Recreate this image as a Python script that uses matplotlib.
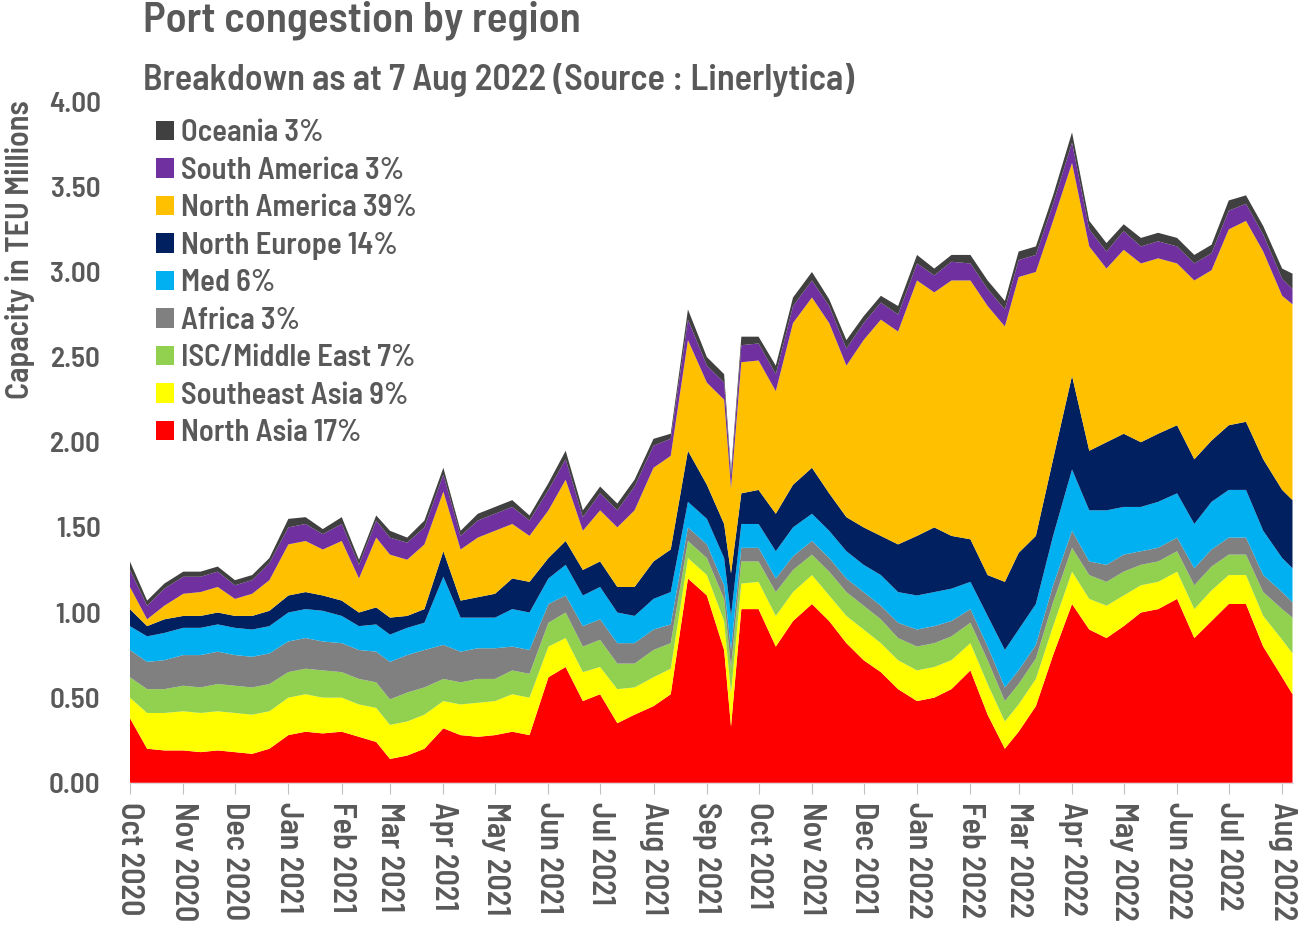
import matplotlib
matplotlib.use("Agg")
import matplotlib.pyplot as plt
import matplotlib.dates as mdates
from matplotlib.patches import Patch
import numpy as np
import pandas as pd

plt.rcParams['font.family'] = ['Barlow Semi Condensed', 'Roboto Condensed',
                               'IBM Plex Sans Condensed', 'DejaVu Sans']

dates = [
    "2020-10-01", "2020-10-11", "2020-10-21", "2020-11-01", "2020-11-11", "2020-11-21",
    "2020-12-01", "2020-12-11", "2020-12-21", "2021-01-01", "2021-01-11", "2021-01-21",
    "2021-02-01", "2021-02-11", "2021-02-21", "2021-03-01", "2021-03-11", "2021-03-21",
    "2021-04-01", "2021-04-11", "2021-04-21", "2021-05-01", "2021-05-11", "2021-05-21",
    "2021-06-01", "2021-06-11", "2021-06-21", "2021-07-01", "2021-07-11", "2021-07-21",
    "2021-08-01", "2021-08-11", "2021-08-21", "2021-09-01", "2021-09-11", "2021-09-15",
    "2021-09-21", "2021-10-01", "2021-10-11", "2021-10-21", "2021-11-01", "2021-11-11",
    "2021-11-21", "2021-12-01", "2021-12-11", "2021-12-21", "2022-01-01", "2022-01-11",
    "2022-01-21", "2022-02-01", "2022-02-11", "2022-02-21", "2022-03-01", "2022-03-11",
    "2022-03-21", "2022-04-01", "2022-04-11", "2022-04-21", "2022-05-01", "2022-05-11",
    "2022-05-21", "2022-06-01", "2022-06-11", "2022-06-21", "2022-07-01", "2022-07-11",
    "2022-07-21", "2022-08-01", "2022-08-07",
]

north_asia = [.38, .20, .19, .19, .18, .19, .18, .17, .20, .28, .30, .29,
              .30, .27, .24, .14, .16, .20, .32, .28, .27, .28, .30, .28,
              .62, .68, .48, .52, .35, .40, .45, .52, 1.20, 1.10, .78, .33,
              1.02, 1.02, .80, .95, 1.05, .95, .82, .72, .65, .55, .48, .50,
              .55, .66, .40, .20, .30, .45, .75, 1.05, .90, .85, .92, 1.00,
              1.02, 1.08, .85, .95, 1.05, 1.05, .80, .62, .52]
southeast_asia = [.12, .21, .22, .23, .23, .23, .23, .23, .22, .22, .22, .21,
                  .20, .19, .20, .20, .20, .20, .16, .18, .20, .20, .22, .22,
                  .18, .17, .17, .16, .20, .16, .17, .15, .12, .12, .17, .20,
                  .15, .16, .18, .17, .17, .15, .16, .18, .17, .17, .18, .18,
                  .17, .16, .18, .16, .16, .16, .17, .19, .18, .19, .18, .16,
                  .16, .16, .17, .18, .17, .17, .18, .22, .24]
isc_middle_east = [.12, .14, .14, .15, .15, .16, .16, .16, .16, .15, .15, .16,
                   .15, .15, .15, .15, .17, .16, .13, .13, .14, .13, .14, .14,
                   .14, .15, .15, .16, .15, .14, .16, .15, .10, .10, .13, .15,
                   .13, .12, .14, .13, .12, .14, .14, .14, .14, .13, .14, .14,
                   .14, .12, .14, .12, .12, .12, .14, .14, .14, .14, .14, .12,
                   .12, .12, .14, .14, .12, .12, .14, .18, .21]
africa = [.16, .16, .17, .18, .19, .19, .18, .18, .18, .18, .18, .17,
          .17, .17, .18, .22, .22, .22, .20, .18, .18, .18, .14, .14,
          .11, .10, .12, .12, .12, .12, .12, .11, .08, .08, .08, .10,
          .08, .08, .08, .08, .08, .08, .08, .08, .08, .09, .10, .10,
          .09, .08, .08, .08, .08, .08, .10, .10, .08, .10, .10, .08,
          .08, .08, .10, .10, .10, .10, .10, .10, .09]
med = [.14, .15, .16, .16, .16, .16, .16, .16, .16, .17, .17, .18,
       .16, .14, .16, .16, .16, .16, .40, .20, .18, .18, .22, .22,
       .15, .18, .18, .19, .18, .16, .18, .19, .15, .15, .16, .20,
       .14, .14, .16, .17, .16, .16, .16, .16, .18, .18, .20, .20,
       .19, .16, .18, .22, .24, .24, .29, .36, .30, .32, .28, .26,
       .27, .26, .26, .28, .28, .28, .26, .20, .20]
north_europe = [.10, .06, .08, .07, .07, .07, .07, .08, .09, .10, .10, .09,
                .09, .08, .10, .10, .07, .08, .15, .10, .12, .14, .18, .18,
                .12, .14, .15, .15, .15, .17, .22, .25, .30, .20, .20, .25,
                .18, .20, .22, .25, .27, .22, .20, .22, .23, .28, .35, .38,
                .31, .25, .24, .40, .45, .40, .45, .55, .35, .40, .43, .38,
                .40, .40, .38, .36, .38, .40, .42, .40, .40]
north_america = [.13, .04, .08, .13, .14, .15, .10, .13, .18, .30, .30, .27,
                 .35, .20, .41, .37, .33, .38, .35, .30, .35, .37, .32, .27,
                 .28, .36, .23, .30, .35, .45, .55, .55, .65, .60, .73, .50,
                 .77, .76, .72, .95, 1.00, 1.00, .89, 1.10, 1.27, 1.25, 1.50, 1.38,
                 1.50, 1.52, 1.58, 1.50, 1.62, 1.55, 1.40, 1.25, 1.20, 1.02, 1.08, 1.05,
                 1.03, .95, 1.05, 1.00, 1.15, 1.18, 1.22, 1.14, 1.15]
south_america = [.10, .08, .10, .10, .09, .09, .08, .08, .10, .10, .10, .09,
                 .10, .08, .10, .10, .10, .10, .10, .08, .10, .10, .10, .09,
                 .12, .12, .08, .10, .10, .14, .13, .10, .12, .10, .10, .07,
                 .10, .10, .10, .10, .10, .10, .10, .10, .10, .10, .10, .10,
                 .11, .10, .10, .10, .10, .10, .10, .12, .10, .10, .11, .10,
                 .10, .10, .10, .10, .11, .10, .10, .10, .09]
oceania = [.05, .03, .03, .03, .03, .03, .03, .03, .03, .05, .04, .03,
           .04, .03, .03, .04, .03, .04, .04, .03, .04, .04, .04, .03,
           .04, .05, .04, .04, .04, .04, .04, .03, .06, .05, .05, .03,
           .05, .04, .05, .05, .05, .04, .05, .04, .04, .05, .05, .04,
           .04, .05, .05, .05, .05, .05, .05, .06, .05, .05, .04, .05,
           .05, .05, .05, .05, .06, .05, .05, .06, .09]

labels = ["North Asia 17%", "Southeast Asia 9%", "ISC/Middle East 7%", "Africa 3%",
          "Med 6%", "North Europe 14%", "North America 39%", "South America 3%", "Oceania 3%"]
colors = ["#FF0000", "#FFFF00", "#92D050", "#808080", "#00B0F0",
          "#002060", "#FFC000", "#7030A0", "#404040"]

series = [north_asia, southeast_asia, isc_middle_east, africa, med,
          north_europe, north_america, south_america, oceania]

x = pd.to_datetime(dates)
text_col = "#595959"
wt = 'semibold'

fig = plt.figure(figsize=(12.99, 9.33), dpi=100)
ax = fig.add_axes([0.1, 0.161, 0.895, 0.73])
ax.stackplot(x, *series, colors=colors, linewidth=0)

ax.set_ylim(0, 4.0)
ax.set_xlim(x[0], x[-1])
ax.set_yticks(np.arange(0, 4.01, 0.5))
ax.yaxis.set_major_formatter(matplotlib.ticker.FormatStrFormatter('%.2f'))
ax.xaxis.set_major_locator(mdates.MonthLocator())
ax.xaxis.set_major_formatter(mdates.DateFormatter('%b %Y'))

for s in ['top', 'right', 'left']:
    ax.spines[s].set_visible(False)
ax.spines['bottom'].set_color('#d9d9d9')
ax.tick_params(axis='y', length=0, pad=21, labelsize=21, labelcolor=text_col)
ax.tick_params(axis='x', length=8, color='#bfbfbf', pad=6, labelsize=23,
               labelcolor=text_col, labelrotation=270)
for lab in ax.get_xticklabels() + ax.get_yticklabels():
    lab.set_fontweight(wt)

fig.text(20 / 1299, 1 - 250 / 933, "Capacity in TEU Millions", fontsize=23, color=text_col,
         fontweight=wt, rotation=90, ha='center', va='center')

fig.text(0.11, 0.978, "Port congestion by region", fontsize=31, color=text_col,
         fontweight=wt, va='center', ha='left')
fig.text(0.11, 0.914, "Breakdown as at 7 Aug 2022 (Source : Linerlytica)", fontsize=26,
         color=text_col, fontweight=wt, va='center', ha='left')

handles = [Patch(facecolor=c, edgecolor='none') for c in colors][::-1]
leg = ax.legend(handles, labels[::-1], loc='upper left', bbox_to_anchor=(0.012, 0.992),
                frameon=False, fontsize=22, handlelength=0.6, handleheight=0.6,
                handletextpad=0.2, labelspacing=0.31, borderaxespad=0)
for t in leg.get_texts():
    t.set_color(text_col)
    t.set_fontweight(wt)

fig.savefig("out.png", dpi=100)
